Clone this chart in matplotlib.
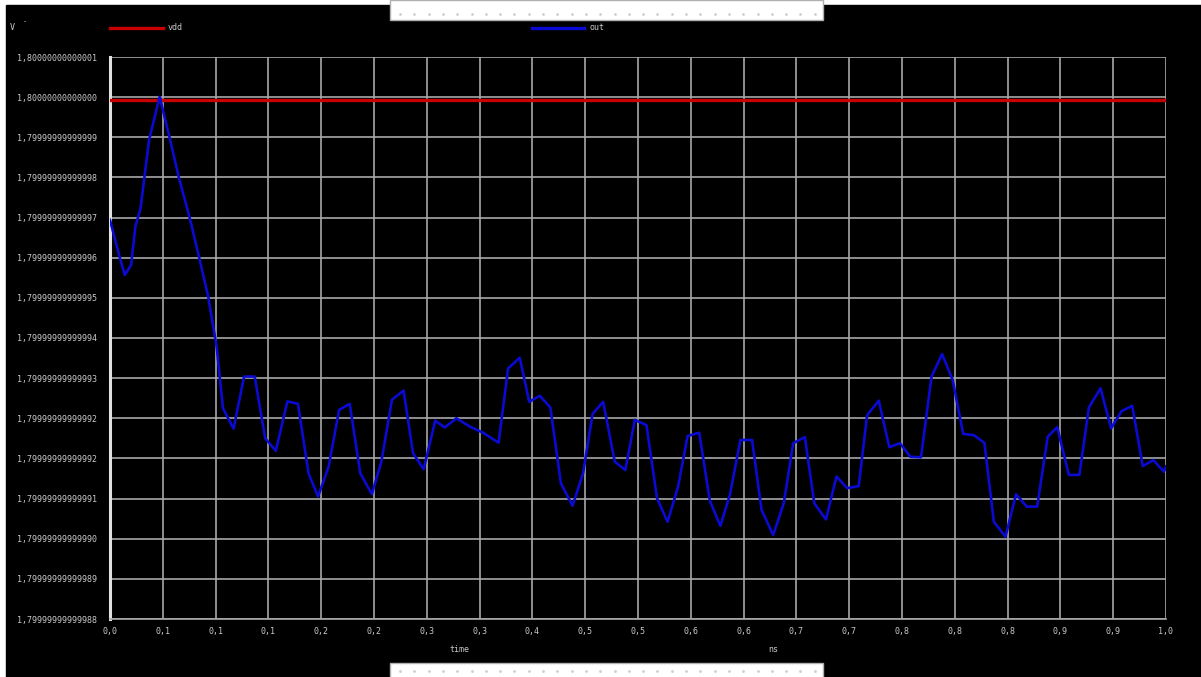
import matplotlib
matplotlib.use("Agg")
import matplotlib.pyplot as plt
from matplotlib.patches import Rectangle

# time in ns, out in grid divisions above the bottom tick (1,79999999999988)
time_ns = [0.000, 0.009, 0.014, 0.020, 0.024, 0.029, 0.037, 0.047, 0.057, 0.065,
           0.076, 0.085, 0.093, 0.101, 0.107, 0.117, 0.127, 0.137, 0.147, 0.157,
           0.168, 0.178, 0.188, 0.197, 0.207, 0.217, 0.227, 0.237, 0.248, 0.257,
           0.267, 0.278, 0.287, 0.297, 0.308, 0.317, 0.328, 0.341, 0.354, 0.368,
           0.377, 0.388, 0.397, 0.407, 0.417, 0.427, 0.438, 0.448, 0.457, 0.467,
           0.478, 0.488, 0.497, 0.508, 0.518, 0.528, 0.538, 0.547, 0.558, 0.568,
           0.578, 0.587, 0.597, 0.608, 0.617, 0.628, 0.638, 0.647, 0.658, 0.667,
           0.678, 0.688, 0.698, 0.709, 0.717, 0.728, 0.738, 0.748, 0.758, 0.768,
           0.778, 0.788, 0.798, 0.808, 0.818, 0.828, 0.837, 0.848, 0.858, 0.868,
           0.878, 0.888, 0.897, 0.908, 0.918, 0.927, 0.938, 0.948, 0.958, 0.968,
           0.978, 0.988, 0.998, 1.000]
out = [9.94, 9.03, 8.57, 8.82, 9.77, 10.24, 11.93, 13.01, 11.93, 11.02,
       9.94, 8.94, 8.03, 6.78, 5.25, 4.74, 6.04, 6.04, 4.50, 4.19,
       5.42, 5.36, 3.63, 3.05, 3.79, 5.21, 5.36, 3.63, 3.11, 3.92,
       5.46, 5.69, 4.13, 3.73, 4.94, 4.77, 5.00, 4.79, 4.63, 4.39,
       6.24, 6.51, 5.41, 5.56, 5.27, 3.38, 2.82, 3.63, 5.11, 5.41,
       3.92, 3.71, 4.96, 4.83, 3.01, 2.42, 3.30, 4.56, 4.64, 2.95,
       2.32, 3.09, 4.46, 4.46, 2.72, 2.09, 2.88, 4.38, 4.53, 2.88,
       2.48, 3.55, 3.26, 3.31, 5.08, 5.44, 4.28, 4.38, 4.04, 4.03,
       6.04, 6.60, 5.95, 4.61, 4.58, 4.39, 2.42, 2.05, 3.11, 2.80,
       2.80, 4.54, 4.78, 3.59, 3.59, 5.27, 5.75, 4.75, 5.18, 5.31,
       3.81, 3.96, 3.67, 3.80]
vdd_level = 12.93

y_labels = ["1,79999999999988", "1,79999999999989", "1,79999999999990",
            "1,79999999999991", "1,79999999999992", "1,79999999999992",
            "1,79999999999993", "1,79999999999994", "1,79999999999995",
            "1,79999999999996", "1,79999999999997", "1,79999999999998",
            "1,79999999999999", "1,80000000000000", "1,80000000000001"]
x_ticks = [i * 0.05 for i in range(21)]
x_labels = ["0,0", "0,1", "0,1", "0,1", "0,2", "0,2", "0,3", "0,3", "0,4", "0,5",
            "0,5", "0,6", "0,6", "0,7", "0,7", "0,8", "0,8", "0,8", "0,9", "0,9", "1,0"]

W, H = 1201, 677
fig = plt.figure(figsize=(W / 100, H / 100), dpi=100, facecolor="white")

# background layer in pixel coordinates
bg = fig.add_axes([0, 0, 1, 1], zorder=0)
bg.set_xlim(0, W)
bg.set_ylim(H, 0)
bg.axis("off")
bg.add_patch(Rectangle((6, 5), W - 6, H - 5, color="black"))

txt = "#c8c8c8"
mono = "DejaVu Sans Mono"

ax = fig.add_axes([110 / W, (H - 619) / H, (1166 - 110) / W, (619 - 57) / H], zorder=1)
ax.set_facecolor("black")
ax.plot([0, 1], [vdd_level, vdd_level], color="#c80000", lw=2.4, zorder=3)
ax.plot(time_ns, out, color="#0a0ad2", lw=1.9, zorder=4)
ax.set_xlim(0, 1)
ax.set_ylim(0, 14)
ax.set_xticks(x_ticks)
ax.set_xticklabels(x_labels)
ax.set_yticks(range(15))
ax.set_yticklabels(y_labels)
ax.tick_params(length=0, colors=txt, labelsize=6)
ax.tick_params(axis="y", pad=9)
ax.tick_params(axis="x", pad=6)
for lab in ax.get_xticklabels() + ax.get_yticklabels():
    lab.set_fontfamily(mono)
ax.grid(True, color="#a8a8a8", lw=1.2)
ax.set_axisbelow(True)
for side in ["top", "right"]:
    ax.spines[side].set_visible(False)
ax.spines["bottom"].set_color("#a8a8a8")
ax.spines["bottom"].set_linewidth(1.2)
ax.spines["left"].set_color("#e0e0e0")
ax.spines["left"].set_linewidth(2.2)

# overlay layer: legend, labels and the white boxes
fg = fig.add_axes([0, 0, 1, 1], zorder=2)
fg.set_xlim(0, W)
fg.set_ylim(H, 0)
fg.axis("off")
fg.patch.set_alpha(0)
fg.text(10, 28, "V", color=txt, fontsize=6, family=mono, va="center")
fg.text(23, 21, "-", color=txt, fontsize=5, family=mono, va="center")
fg.plot([110, 163], [28, 28], color="#c80000", lw=2.4)
fg.text(168, 28, "vdd", color=txt, fontsize=6, family=mono, va="center")
fg.plot([532, 584], [28, 28], color="#0a0ad2", lw=2.4)
fg.text(590, 28, "out", color=txt, fontsize=6, family=mono, va="center")
fg.text(459, 649, "time", color=txt, fontsize=6, family=mono, va="center", ha="center")
fg.text(773, 649, "ns", color=txt, fontsize=6, family=mono, va="center", ha="center")
fg.text(746, 667, "ons", color="#3a9a9a", fontsize=11, fontweight="bold", va="center", ha="center", zorder=4)

fg.add_patch(Rectangle((390, 0), 433, 20, facecolor="white", edgecolor="#b0b0b0", lw=1, zorder=5))
fg.add_patch(Rectangle((390, 663), 433, 20, facecolor="white", edgecolor="#b0b0b0", lw=1, zorder=5))
dots_x = [400 + 14.3 * i for i in range(30)]
fg.scatter(dots_x, [14] * len(dots_x), s=1, color="#d0d0d0", zorder=6)
fg.scatter(dots_x, [671] * len(dots_x), s=1, color="#d0d0d0", zorder=6)

fig.savefig("out.png", dpi=100, facecolor=fig.get_facecolor())
